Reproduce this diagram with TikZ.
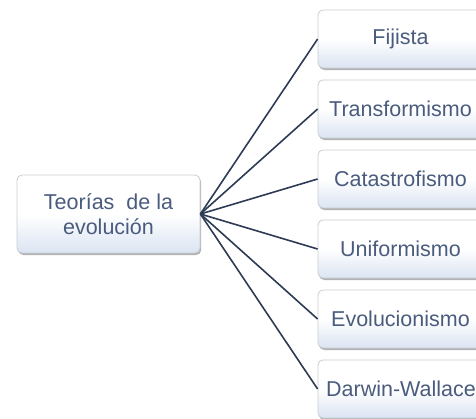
\documentclass[tikz,border=0pt]{standalone}
\usepackage{fontspec}
\setmainfont{Liberation Sans}
\usetikzlibrary{shadows}
\definecolor{txtc}{RGB}{74,92,126}
\definecolor{linec}{RGB}{46,59,85}
\definecolor{bordc}{RGB}{200,204,210}
\definecolor{botc}{RGB}{218,228,242}
\tikzset{
  box/.style={draw=bordc, line width=0.8pt, rounded corners=5pt,
    top color=white, bottom color=botc, middle color=white,
    drop shadow={shadow xshift=1.2pt, shadow yshift=-2pt, opacity=0.5, fill=black!60},
    text=txtc, align=center, inner sep=0pt,
    font=\fontsize{21.5}{25}\selectfont},
  leaf/.style={box, minimum width=165pt, minimum height=58pt},
  conn/.style={draw=linec, line width=1.6pt}
}
\begin{document}
\begin{tikzpicture}[x=1pt, y=-1pt]
\useasboundingbox (0,0) rectangle (476,418);
\clip (0,0) rectangle (476,418);
\node[box, minimum width=183pt, minimum height=78pt] (root) at (108.5,214) {Teorías\ \ de la\\evolución};
\node[leaf] (n1) at (400.5,39) {Fijista};
\node[leaf] (n2) at (400.5,109) {Transformismo};
\node[leaf] (n3) at (400.5,179) {Catastrofismo};
\node[leaf] (n4) at (400.5,249) {Uniformismo};
\node[leaf] (n5) at (400.5,319) {Evolucionismo};
\node[leaf] (n6) at (400.5,389) {Darwin-Wallace\kern-1pt};
\foreach \n in {n1,n2,n3,n4,n5,n6} {
  \draw[conn] (root.east) -- (\n.west);
}
\end{tikzpicture}
\end{document}
